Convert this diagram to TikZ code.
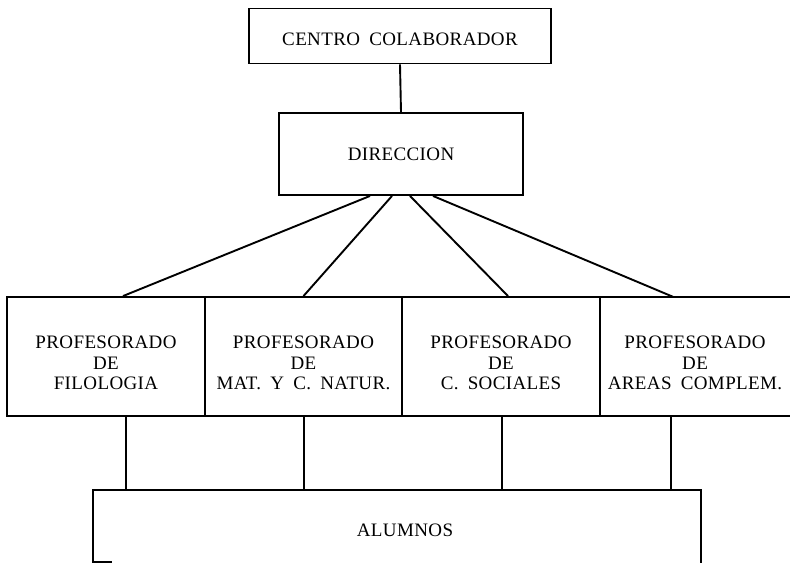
\documentclass[tikz,border=0pt]{standalone}
\usepackage{fontspec}
\setmainfont[LetterSpace=2,WordSpace=1.8]{Liberation Serif}
\newcommand{\threelines}[3]{\raisebox{-13pt}[0pt][0pt]{\begin{tabular}{@{}c@{}}#1\\#2\\#3\end{tabular}}}
\begin{document}
\begin{tikzpicture}[x=1pt,y=-1pt,
  every node/.style={font=\fontsize{19}{20.5}\selectfont, align=center, inner sep=0pt},
  box/.style={draw, line width=1.9pt, rectangle},
  conn/.style={line width=1.9pt},
  edge/.style={line width=1.9pt, line cap=rect}]
\useasboundingbox (0,0) rectangle (790,563);
% boxes
\node[box, minimum width=302pt, minimum height=55pt] (centro) at (400,36) {\raisebox{-9.3pt}[0pt][0pt]{CENTRO COLABORADOR}};
\node[box, minimum width=244pt, minimum height=82pt] (dir) at (401,154) {DIRECCION};
\node[box, minimum width=198pt, minimum height=119pt] (filo) at (106,356.5) {\threelines{PROFESORADO}{DE}{FILOLOGIA}};
\node[box, minimum width=197pt, minimum height=119pt] (mat) at (303.5,356.5) {\threelines{PROFESORADO}{DE}{MAT. Y C. NATUR.}};
\node[box, minimum width=198pt, minimum height=119pt] (soc) at (501,356.5) {\threelines{PROFESORADO}{DE}{C. SOCIALES}};
\node[minimum width=190pt, minimum height=119pt] (areas) at (695,356.5) {\threelines{PROFESORADO}{DE}{AREAS COMPLEM.}};
\draw[edge] (areas.north east) -- (areas.north west) -- (areas.south west) -- (areas.south east);
\node[minimum width=608pt, minimum height=72pt] (alum) at (397,526) {\raisebox{-10.3pt}[0pt][0pt]{\makebox[0pt]{\hspace*{16pt}ALUMNOS}}};
\draw[edge] ([xshift=18pt]alum.south west) -- (alum.south west) -- (alum.north west) -- (alum.north east) -- (alum.south east);
% connectors
\draw[conn] (centro.south) -- (dir.north);
\draw[conn] ([xshift=-31pt]dir.south) -- ([xshift=17pt]filo.north);
\draw[conn] ([xshift=-9pt]dir.south) -- (mat.north);
\draw[conn] ([xshift=9pt]dir.south) -- ([xshift=7pt]soc.north);
\draw[conn] ([xshift=32pt]dir.south) -- ([xshift=-22pt]areas.north);
\draw[conn] ([xshift=20pt]filo.south) -- ([xshift=20pt]filo.south |- alum.north);
\draw[conn] ([xshift=0.5pt]mat.south) -- ([xshift=0.5pt]mat.south |- alum.north);
\draw[conn] ([xshift=1pt]soc.south) -- ([xshift=1pt]soc.south |- alum.north);
\draw[conn] ([xshift=-24pt]areas.south) -- ([xshift=-24pt]areas.south |- alum.north);
\end{tikzpicture}
\end{document}
